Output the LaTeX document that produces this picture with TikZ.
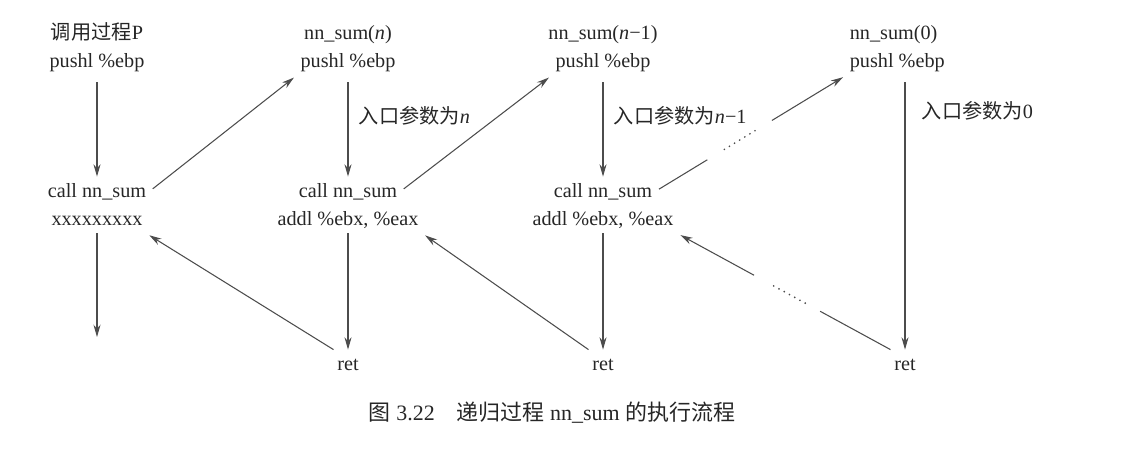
\documentclass[tikz,border=0pt]{standalone}
\usepackage{fontspec}
\setmainfont{Liberation Serif}
\newfontfamily\cjk{Noto Sans CJK SC}
\usetikzlibrary{arrows.meta}

\begin{document}
\begin{tikzpicture}[x=0.02cm, y=-0.02cm,
		every node/.style={font=\fontsize{11.5}{13}\selectfont, text=black!85, inner sep=2pt, text height=9.5pt, text depth=2.5pt},
		flow/.style={draw=black!70, line width=0.6pt, -{Stealth[length=7pt,width=4pt]}},
		plain/.style={draw=black!70, line width=0.6pt},
		dotline/.style={draw=black!70, line width=1.1pt, line cap=round, dash pattern=on 0pt off 3.4pt}]
		%%%%% START %%%%%
		\useasboundingbox (0,0) rectangle (1145,450);
		
		% caller
		\node (t1) at (97,33) {{\cjk 调用过程}P};
		\node (p1) at (97,61) {pushl \%ebp};
		\node (c1) at (97,191) {call nn\_sum};
		\node (x1) at (97,219) {xxxxxxxxx};
		\coordinate (e1) at (97,337);
		
		% nn_sum(n)
		\node (t2) at (348,33) {nn\_sum(\textit{n})};
		\node (p2) at (348,61) {pushl \%ebp};
		\node (c2) at (348,191) {call nn\_sum};
		\node (a2) at (348,219) {addl \%ebx, \%eax};
		\node (r2) at (348,364) {ret};
		\node[anchor=west] (l2) at (355,117) {{\cjk 入口参数为}\textit{n}};
		
		% nn_sum(n-1)
		\node (t3) at (603,33) {nn\_sum(\textit{n}−1)};
		\node (p3) at (603,61) {pushl \%ebp};
		\node (c3) at (603,191) {call nn\_sum};
		\node (a3) at (603,219) {addl \%ebx, \%eax};
		\node (r3) at (603,364) {ret};
		\node[anchor=west] (l3) at (610,117) {{\cjk 入口参数为}\textit{n}−1};
		
		% nn_sum(0)
		\node[anchor=west] (t4) at (846,33) {nn\_sum(0)};
		\node[anchor=west] (p4) at (846,61) {pushl \%ebp};
		\node (r4) at (905,364) {ret};
		\node[anchor=west] (l4) at (918,112) {{\cjk 入口参数为}0};
		
		% down
		\draw[flow, shorten <=4pt] (p1) -- (c1);
		\draw[flow] (x1) -- (e1);
		\draw[flow, shorten <=4pt] (p2) -- (c2);
		\draw[flow] (a2) -- (r2);
		\draw[flow, shorten <=4pt] (p3) -- (c3);
		\draw[flow] (a3) -- (r3);
		\draw[flow, shorten <=4pt] (r4 |- p4.south) -- (r4);
		
		% calls
		\draw[flow, shorten <=2pt, shorten >=2pt] (c1.east) -- (p2.south west);
		\draw[flow, shorten <=2pt, shorten >=2pt] (c2.east) -- (p3.south west);
		\path (c3.east) -- (p4.south west)
			coordinate[pos=0.27] (k1) coordinate[pos=0.36] (k2)
			coordinate[pos=0.53] (k3) coordinate[pos=0.61] (k4);
		\draw[plain, shorten <=2pt] (c3.east) -- (k1);
		\draw[dotline] (k2) -- (k3);
		\draw[flow, shorten >=2pt] (k4) -- (p4.south west);
		
		% returns
		\draw[flow, shorten >=2pt] (r2.north west) -- (x1.south east);
		\draw[flow, shorten >=2pt] (r3.north west) -- (a2.south east);
		\path (r4.north west) -- (a3.south east)
			coordinate[pos=0.33] (m1) coordinate[pos=0.40] (m2)
			coordinate[pos=0.57] (m3) coordinate[pos=0.64] (m4);
		\draw[plain] (r4.north west) -- (m1);
		\draw[dotline] (m2) -- (m3);
		\draw[flow, shorten >=2pt] (m4) -- (a3.south east);
		
		% caption
		\node[font=\fontsize{12.5}{14}\selectfont] (cap) at (552,414) {{\cjk 图} 3.22\quad {\cjk 递归过程} nn\_sum {\cjk 的执行流程}};
		%%%%% END %%%%%
\end{tikzpicture}
\end{document}
